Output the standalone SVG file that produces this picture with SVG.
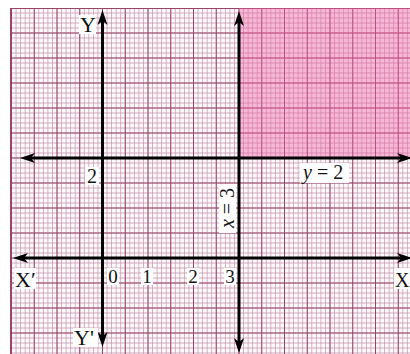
<svg xmlns="http://www.w3.org/2000/svg" width="410" height="354" viewBox="0 0 410 354">
<style>
.lbl{font-family:"Liberation Serif","Times New Roman",serif;fill:#111}
.big{font-size:22px}
.num{font-size:19px;text-anchor:middle}
.bg{fill:#ffffff}
.ax{stroke:#000;stroke-width:3;fill:none}
</style>
<defs>
<pattern id="minor" patternUnits="userSpaceOnUse" x="9.225" y="5.5" width="4.55" height="5">
<path d="M2.275 0V5M0 2.5H4.55" stroke="#c99cb2" stroke-width="0.8" fill="none"/>
</pattern>
<pattern id="major" patternUnits="userSpaceOnUse" x="0.125" y="-4.5" width="22.75" height="25">
<path d="M11.375 0V25M0 12.5H22.75" stroke="#9a4469" stroke-width="1" fill="none"/>
</pattern>
<marker id="arr" markerUnits="userSpaceOnUse" markerWidth="16" markerHeight="12" refX="4" refY="6" orient="auto-start-reverse" overflow="visible">
<path d="M0,1 L15,6 L0,11 L4,6 Z" fill="#000"/>
</marker>
</defs>
<g id="paper">
<rect x="0" y="0" width="410" height="354" fill="#fff"/>
<rect x="10" y="8" width="400" height="346" fill="#fdf9fb"/>
<rect x="10" y="8" width="400" height="346" fill="url(#minor)"/>
<rect x="10" y="8" width="400" height="346" fill="url(#major)"/>
<path d="M10 8.5H410M10.5 8V354" stroke="#9a4469" stroke-width="1"/>
</g>
<g id="region">
<rect x="239" y="8" width="171" height="150" fill="#ee5fa3" fill-opacity="0.42"/>
</g>
<g id="connectors">
<line class="ax" x1="102.5" y1="21" x2="102.5" y2="336" marker-start="url(#arr)" marker-end="url(#arr)"/>
<line class="ax" x1="24" y1="258" x2="401" y2="258" marker-start="url(#arr)" marker-end="url(#arr)"/>
<line class="ax" x1="31" y1="158" x2="401" y2="158" marker-start="url(#arr)" marker-end="url(#arr)"/>
<line class="ax" x1="239" y1="22" x2="239" y2="342" marker-start="url(#arr)" marker-end="url(#arr)"/>
</g>
<g id="label-Y">
<rect class="bg" x="79" y="15" width="17" height="19"/>
<text class="lbl big" x="80" y="32">Y</text>
</g>
<g id="label-Yprime">
<rect class="bg" x="73" y="328" width="25" height="19"/>
<text class="lbl big" x="74" y="345">Y'</text>
</g>
<g id="label-Xprime">
<rect class="bg" x="14" y="268" width="22" height="21"/>
<text class="lbl big" x="15" y="287">X′</text>
</g>
<g id="label-X">
<rect class="bg" x="394" y="268" width="16" height="21"/>
<text class="lbl" style="font-size:20px" x="395" y="287">X</text>
</g>
<g id="tick-0">
<rect class="bg" x="107" y="268" width="12" height="17"/>
<text class="lbl num" x="113" y="283">0</text>
</g>
<g id="tick-1">
<rect class="bg" x="141" y="268" width="12" height="17"/>
<text class="lbl num" x="147" y="283">1</text>
</g>
<g id="tick-2">
<rect class="bg" x="187" y="268" width="12" height="17"/>
<text class="lbl num" x="193" y="283">2</text>
</g>
<g id="tick-3">
<rect class="bg" x="224" y="268" width="12" height="17"/>
<text class="lbl num" x="230" y="283">3</text>
</g>
<g id="tick-y2">
<rect class="bg" x="85" y="167" width="14" height="18"/>
<text class="lbl num" style="font-size:20px" x="92" y="183">2</text>
</g>
<g id="label-y2">
<rect class="bg" x="300" y="163" width="49" height="20"/>
<text class="lbl" style="font-size:20px" x="303" y="179"><tspan font-style="italic">y</tspan> = 2</text>
</g>
<g id="label-x3">
<rect class="bg" x="219" y="184" width="17" height="49"/>
<text class="lbl" style="font-size:20px;text-anchor:middle" transform="translate(234,208) rotate(-90)" x="0" y="0"><tspan font-style="italic">x</tspan> = 3</text>
</g>
</svg>
